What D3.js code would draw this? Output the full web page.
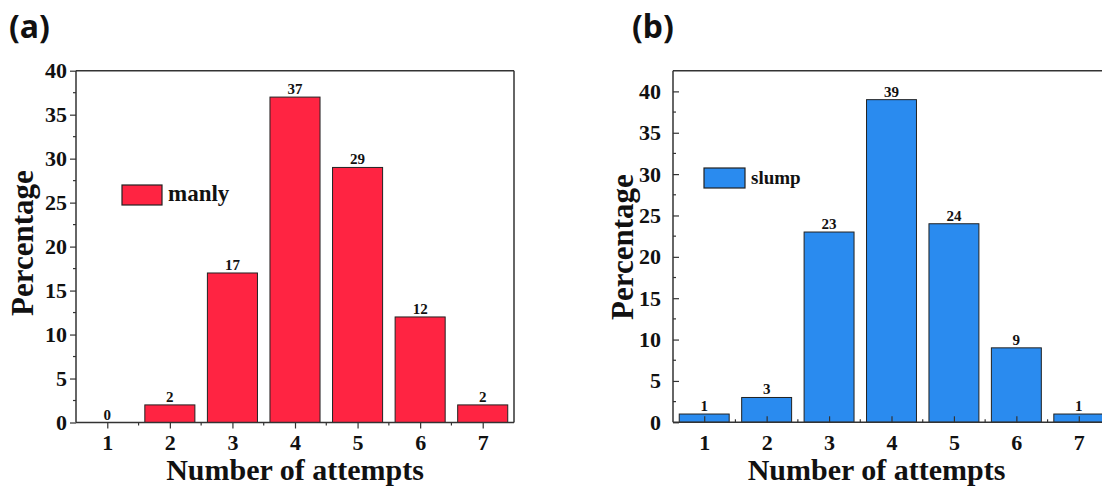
<!DOCTYPE html>
<html>
<head>
<meta charset="utf-8">
<script src="https://cdn.jsdelivr.net/npm/d3@7"></script>
<style>
  body { margin: 0; background: #fff; overflow: hidden; }
  svg { display: block; }
</style>
</head>
<body>
<svg id="chart" width="1102" height="486"></svg>
<script>
// data
var attempts = [1, 2, 3, 4, 5, 6, 7];
var manlyPct = [0, 2, 17, 37, 29, 12, 2];
var slumpPct = [1, 3, 23, 39, 24, 9, 1];
var yTicks = [0, 5, 10, 15, 20, 25, 30, 35, 40];

var svg = d3.select("#chart");
var serif = "'Liberation Serif', 'Times New Roman', serif";

function drawPanel(opt) {
    var g = svg.append("g");
    var x = d3.scaleLinear().domain([0.5, 7.5]).range([opt.left, opt.left + opt.xw]);
    var y = d3.scaleLinear().domain([0, opt.ymax]).range([opt.bottom, opt.top]);
    var bw = (x(1.4) - x(0.6));
    var inward = opt.inward;

    // bars
    g.selectAll("rect.bar").data(attempts).enter().append("rect")
        .attr("class", "bar")
        .attr("x", function(d) { return x(d) - bw / 2; })
        .attr("width", bw)
        .attr("y", function(d, i) { return y(opt.values[i]); })
        .attr("height", function(d, i) { return y(0) - y(opt.values[i]); })
        .attr("fill", opt.color)
        .attr("stroke", "#222")
        .attr("stroke-width", 1);

    // value labels
    g.selectAll("text.val").data(attempts).enter().append("text")
        .attr("class", "val")
        .attr("x", function(d) { return x(d); })
        .attr("y", function(d, i) { return y(opt.values[i]) - 3; })
        .attr("text-anchor", "middle")
        .attr("font-family", serif)
        .attr("font-weight", "bold")
        .attr("font-size", 15)
        .attr("fill", "#111")
        .text(function(d, i) { return opt.values[i]; });

    // frame
    g.append("line").attr("x1", opt.left).attr("x2", opt.left + opt.xw)
        .attr("y1", opt.top).attr("y2", opt.top).attr("stroke", "#333").attr("stroke-width", 1.5);
    if (opt.rightFrame) {
        g.append("line").attr("x1", opt.left + opt.xw).attr("x2", opt.left + opt.xw)
            .attr("y1", opt.top).attr("y2", opt.bottom).attr("stroke", "#333").attr("stroke-width", 1.5);
    }

    var major = inward ? -6 : 6, minor = inward ? -3 : 3;

    // minor ticks
    var xMinor = d3.range(1.5, 7.5, 1);
    g.selectAll("line.xm").data(xMinor).enter().append("line")
        .attr("x1", function(d) { return x(d); }).attr("x2", function(d) { return x(d); })
        .attr("y1", opt.bottom).attr("y2", opt.bottom + minor)
        .attr("stroke", "#333").attr("stroke-width", 1.2);
    var yMinor = d3.range(2.5, opt.ymax, 5);
    g.selectAll("line.ym").data(yMinor).enter().append("line")
        .attr("x1", opt.left).attr("x2", opt.left - minor)
        .attr("y1", function(d) { return y(d); }).attr("y2", function(d) { return y(d); })
        .attr("stroke", "#333").attr("stroke-width", 1.2);

    // axes
    var xAxis = d3.axisBottom(x).tickValues(attempts).tickFormat(d3.format("d"))
        .tickSize(major).tickSizeOuter(0)
        .tickPadding(inward ? 12 : 6);
    var gx = g.append("g").attr("transform", "translate(0," + opt.bottom + ")").call(xAxis);
    var yAxis = d3.axisLeft(y).tickValues(yTicks).tickFormat(d3.format("d"))
        .tickSize(major).tickSizeOuter(0)
        .tickPadding(inward ? 12 : 3);
    var gy = g.append("g").attr("transform", "translate(" + opt.left + ",0)").call(yAxis);

    [gx, gy].forEach(function(a) {
        a.select(".domain").attr("stroke", "#333").attr("stroke-width", 1.5);
        a.selectAll(".tick line").attr("stroke", "#333").attr("stroke-width", 1.2);
        a.selectAll(".tick text").attr("font-size", 22).attr("fill", "#111")
            .attr("font-family", serif).attr("font-weight", "bold");
    });
    // y axis domain runs full height up to frame top
    gy.select(".domain").attr("d", "M0," + opt.bottom + "V" + opt.top);
    gx.select(".domain").attr("d", "M" + opt.left + ",0H" + (opt.left + opt.xw));

    // axis titles
    g.append("text")
        .attr("x", opt.left + opt.xw / 2 + opt.xTitleShift)
        .attr("y", 480)
        .attr("text-anchor", "middle")
        .attr("font-family", serif).attr("font-weight", "bold")
        .attr("font-size", 30).attr("fill", "#111")
        .text("Number of attempts");
    g.append("text")
        .attr("transform", "translate(" + opt.yTitleX + "," + opt.yTitleY + ") rotate(-90)")
        .attr("text-anchor", "middle")
        .attr("font-family", serif).attr("font-weight", "bold")
        .attr("font-size", 31).attr("fill", "#111")
        .text("Percentage");

    // legend
    g.append("rect")
        .attr("x", opt.legend.x).attr("y", opt.legend.y)
        .attr("width", opt.legend.w).attr("height", 20)
        .attr("fill", opt.color).attr("stroke", "#222").attr("stroke-width", 1.2);
    g.append("text")
        .attr("x", opt.legend.x + opt.legend.w + 6).attr("y", opt.legend.y + 16)
        .attr("font-family", serif).attr("font-weight", "bold")
        .attr("font-size", opt.legend.fs).attr("fill", "#111")
        .text(opt.name);

    // panel letter
    g.append("text")
        .attr("x", opt.letterX).attr("y", 38)
        .attr("font-family", "'Noto Sans', 'DejaVu Sans', sans-serif")
        .attr("font-weight", "bold").attr("font-size", 32).attr("fill", "#111")
        .text(opt.letter);
}

drawPanel({
    values: manlyPct, name: "manly", letter: "(a)", letterX: 9,
    color: "#FF2442", left: 76, xw: 438, top: 70.7, bottom: 422.5, ymax: 40,
    inward: false, rightFrame: true, xTitleShift: 0,
    yTitleX: 33, yTitleY: 243,
    legend: { x: 122, y: 185, w: 40, fs: 23 }
});

drawPanel({
    values: slumpPct, name: "slump", letter: "(b)", letterX: 632,
    color: "#2A8BEF", left: 673, xw: 437, top: 70.7, bottom: 422.3, ymax: 42.5,
    inward: true, rightFrame: true, xTitleShift: -15,
    yTitleX: 633, yTitleY: 247,
    legend: { x: 704, y: 168, w: 41, fs: 19 }
});
</script>
</body>
</html>
